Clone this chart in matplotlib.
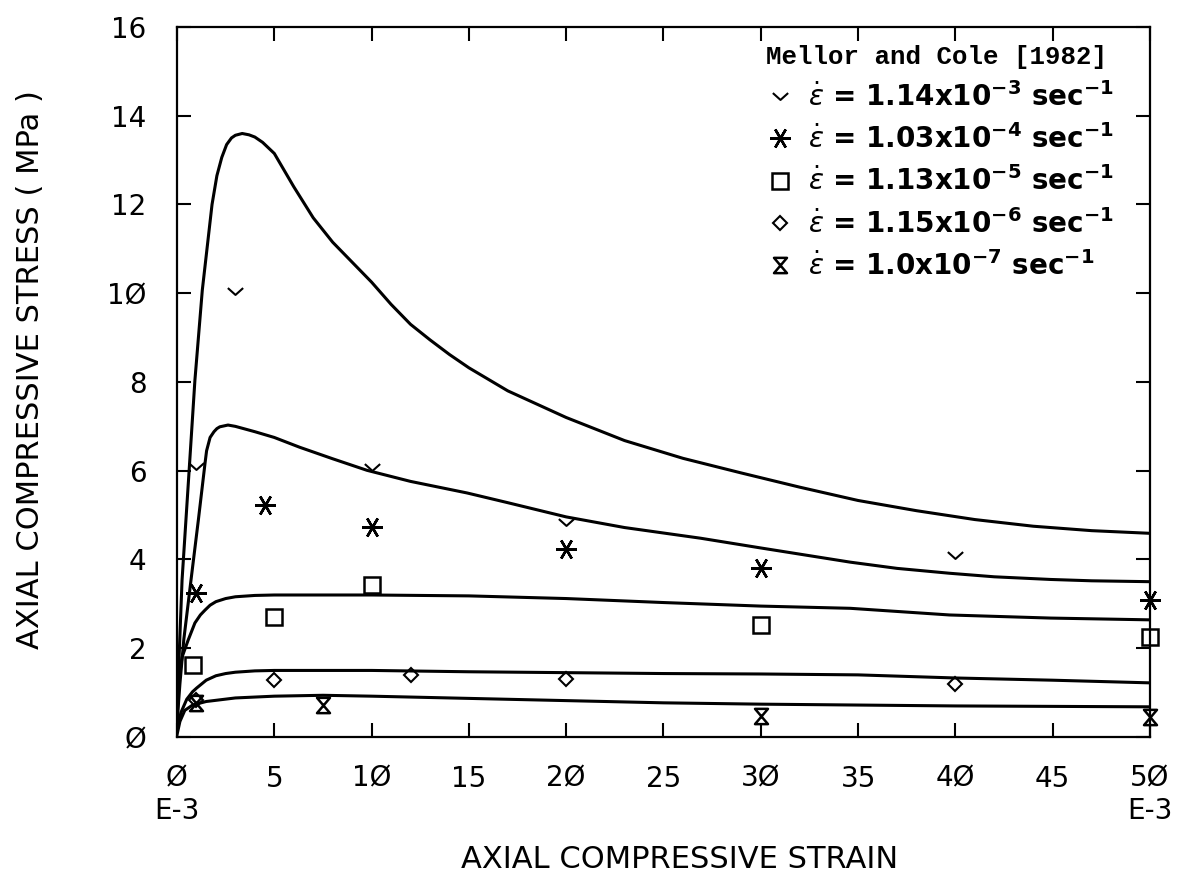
import matplotlib.pyplot as plt
from matplotlib.path import Path

# axial strain (x1e-3) and stress (MPa) of the fitted curves, one per strain rate
curve_1e3_x = [0, 0.08, 0.26, 0.6, 0.92, 1.3, 1.8, 2.05, 2.3, 2.55, 2.8, 3.0, 3.35, 3.7, 4.0, 4.4, 5, 6, 7, 8, 9, 10, 11, 12, 13, 14, 15,
               17, 20, 23, 26, 29, 32, 35, 38, 41, 44, 47, 50]
curve_1e3_y = [0.3, 1.5, 3.54, 5.85, 8.04, 10.07, 12.0, 12.65, 13.06, 13.35, 13.5, 13.56, 13.6, 13.57, 13.52, 13.4, 13.15, 12.4, 11.7, 11.15, 10.7, 10.25, 9.75, 9.3, 8.95, 8.62, 8.32,
               7.8, 7.2, 6.68, 6.28, 5.95, 5.63, 5.33, 5.1, 4.9, 4.75, 4.65, 4.59]

curve_1e4_x = [0, 0.15, 0.35, 0.72, 1.1, 1.44, 1.52, 1.7, 1.9, 2.05, 2.2, 2.62, 3.0, 4.0, 5, 6.3, 8, 9.76, 12, 14.9, 17, 20, 23, 26.9, 30,
               34.6, 37, 39.7, 42, 44.9, 47, 50]
curve_1e4_y = [0.3, 1.2, 2.2, 3.54, 4.9, 6.17, 6.45, 6.75, 6.88, 6.95, 6.99, 7.03, 7.0, 6.88, 6.75, 6.53, 6.27, 6.01, 5.76, 5.5, 5.28, 4.96, 4.72, 4.48, 4.26,
               3.94, 3.8, 3.69, 3.61, 3.55, 3.52, 3.5]

curve_1e5_x = [0, 0.1, 0.26, 0.57, 0.92, 1.2, 1.44, 1.7, 2.0, 2.5, 3, 4, 5, 10, 15, 20, 25, 30, 34.6, 39.7, 44.9, 50]
curve_1e5_y = [0.3, 1.3, 1.8, 2.18, 2.57, 2.75, 2.86, 2.97, 3.05, 3.12, 3.16, 3.19, 3.2, 3.2, 3.18, 3.12, 3.03, 2.95, 2.9, 2.75, 2.68, 2.64]

curve_1e6_x = [0, 0.2, 0.5, 0.8, 1.0, 1.5, 2.0, 2.5, 3, 4, 5, 10, 15, 20, 25, 30, 35, 40, 45, 50]
curve_1e6_y = [0.15, 0.55, 0.85, 1.02, 1.1, 1.28, 1.38, 1.43, 1.46, 1.49, 1.5, 1.5, 1.47, 1.45, 1.43, 1.42, 1.4, 1.33, 1.28, 1.22]

curve_1e7_x = [0, 0.15, 0.4, 0.8, 1.5, 3, 5, 7.5, 10, 14, 20, 25, 30, 35, 40, 50]
curve_1e7_y = [0.05, 0.35, 0.6, 0.72, 0.8, 0.88, 0.92, 0.94, 0.92, 0.88, 0.82, 0.77, 0.74, 0.72, 0.7, 0.68]

# Mellor and Cole [1982] test data
data_1e3_x = [1, 3, 10, 20, 40]
data_1e3_y = [6.1, 10.05, 6.08, 4.84, 4.1]

data_1e4_x = [1, 4.5, 10, 20, 30, 50]
data_1e4_y = [3.25, 5.22, 4.73, 4.23, 3.8, 3.08]

data_1e5_x = [0.8, 5, 10, 30, 50]
data_1e5_y = [1.62, 2.7, 3.42, 2.52, 2.25]

data_1e6_x = [1, 5, 12, 20, 40]
data_1e6_y = [0.83, 1.28, 1.4, 1.3, 1.19]

data_1e7_x = [1, 7.5, 30, 50]
data_1e7_y = [0.77, 0.72, 0.47, 0.45]

rate_labels = [
    r'$\dot{\epsilon}$ = 1.14x10$^{\mathbf{-3}}$ sec$^{\mathbf{-1}}$',
    r'$\dot{\epsilon}$ = 1.03x10$^{\mathbf{-4}}$ sec$^{\mathbf{-1}}$',
    r'$\dot{\epsilon}$ = 1.13x10$^{\mathbf{-5}}$ sec$^{\mathbf{-1}}$',
    r'$\dot{\epsilon}$ = 1.15x10$^{\mathbf{-6}}$ sec$^{\mathbf{-1}}$',
    r'$\dot{\epsilon}$ = 1.0x10$^{\mathbf{-7}}$ sec$^{\mathbf{-1}}$',
]

x_ticks = [0, 5, 10, 15, 20, 25, 30, 35, 40, 45, 50]
x_tick_labels = ['Ø\nE-3', '5', '1Ø', '15', '2Ø', '25', '3Ø', '35', '4Ø', '45', '5Ø\nE-3']
y_ticks = [0, 2, 4, 6, 8, 10, 12, 14, 16]
y_tick_labels = ['Ø', '2', '4', '6', '8', '1Ø', '12', '14', '16']

# open chevron and hourglass symbols
check_mark = Path([(-1, 0.45), (0, -0.45), (1, 0.45)],
                  [Path.MOVETO, Path.LINETO, Path.LINETO])
hourglass = Path([(-0.85, 1), (0.85, 1), (-0.85, -1), (0.85, -1), (-0.85, 1)],
                 [Path.MOVETO, Path.LINETO, Path.LINETO, Path.LINETO, Path.CLOSEPOLY])

fig = plt.figure(figsize=(11.96, 8.82), dpi=100)
ax = fig.add_axes([0.148, 0.1644, 0.8135, 0.805])

for cx, cy in [(curve_1e3_x, curve_1e3_y), (curve_1e4_x, curve_1e4_y),
               (curve_1e5_x, curve_1e5_y), (curve_1e6_x, curve_1e6_y),
               (curve_1e7_x, curve_1e7_y)]:
    ax.plot(cx, cy, color='black', lw=2.2, solid_joinstyle='round', zorder=2)

mk = dict(linestyle='none', color='black', markerfacecolor='none', clip_on=False, zorder=3)
ax.plot(data_1e3_x, data_1e3_y, marker=check_mark, ms=11, mew=1.5, label=rate_labels[0], **mk)
ax.plot(data_1e4_x, data_1e4_y, marker=(6, 2, 30), ms=15, mew=1.8, label=rate_labels[1], **mk)
ax.plot(data_1e5_x, data_1e5_y, marker='s', ms=11, mew=1.8, label=rate_labels[2], **mk)
ax.plot(data_1e6_x, data_1e6_y, marker='D', ms=7, mew=1.5, label=rate_labels[3], **mk)
ax.plot(data_1e7_x, data_1e7_y, marker=hourglass, ms=11, mew=1.8, label=rate_labels[4], **mk)

ax.set_xlim(0, 50)
ax.set_ylim(0, 16)
ax.set_xticks(x_ticks)
ax.set_xticklabels(x_tick_labels)
ax.set_yticks(y_ticks)
ax.set_yticklabels(y_tick_labels)
ax.tick_params(direction='in', length=10, width=1.5, top=True, right=True,
               labelsize=20, colors='black')
ax.tick_params(axis='x', pad=20)
ax.tick_params(axis='y', pad=22)
for s in ax.spines.values():
    s.set_linewidth(1.6)

ax.set_xlabel('AXIAL COMPRESSIVE STRAIN', fontsize=22)
ax.xaxis.set_label_coords(0.517, -0.152)
ax.set_ylabel('AXIAL COMPRESSIVE STRESS ( MPa )', fontsize=22)
ax.yaxis.set_label_coords(-0.136, 0.517)

leg = ax.legend(loc='upper left', bbox_to_anchor=(0.594, 0.99), frameon=False,
                title='Mellor and Cole [1982]', alignment='left',
                title_fontproperties={'family': 'Liberation Mono', 'weight': 'bold', 'size': 18.5},
                prop={'weight': 'bold', 'size': 20}, handlelength=1.0,
                handletextpad=0.5, labelspacing=0.45, borderaxespad=0)

fig.savefig('out.png', dpi=100)
